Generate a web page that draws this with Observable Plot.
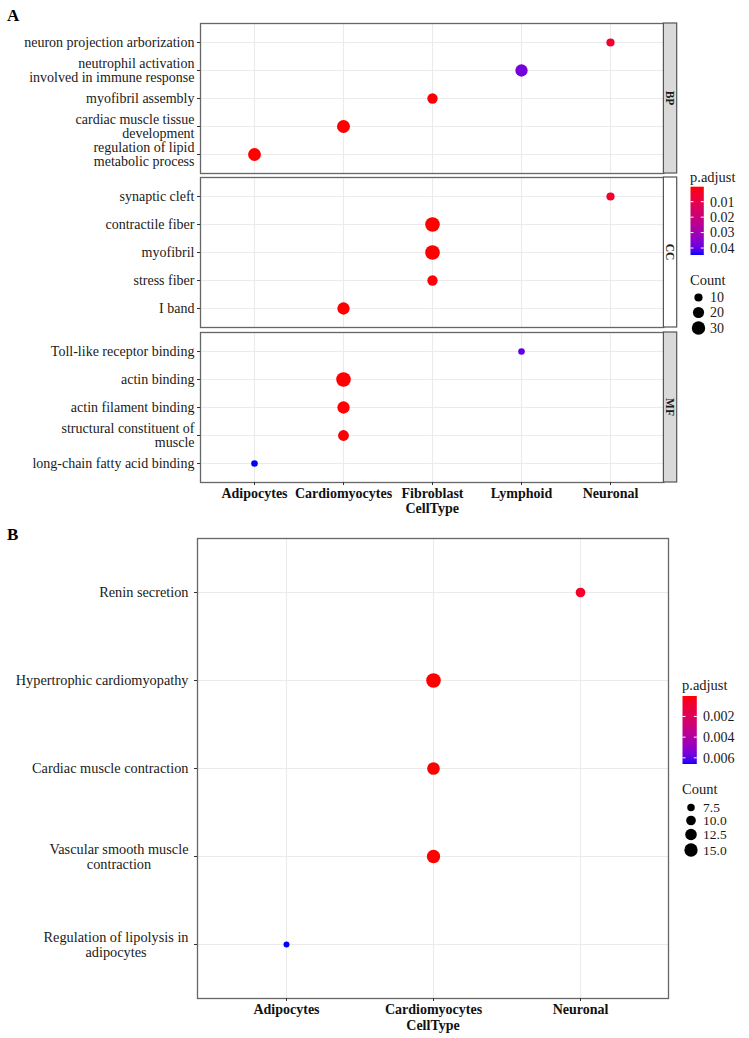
<!DOCTYPE html>
<html>
<head>
<meta charset="utf-8">
<script src="https://cdn.jsdelivr.net/npm/d3@7"></script>
<script src="https://cdn.jsdelivr.net/npm/@observablehq/plot@0.6"></script>
<style>
html, body { margin: 0; padding: 0; background: #fff; }
#root { position: relative; width: 749px; height: 1038px; overflow: hidden; background: #fff; }
#root svg { position: absolute; left: 0; overflow: visible; }
</style>
</head>
<body>
<div id="root"></div>
<script>
// ---------------- Data: panel A (GO enrichment) ----------------
const goOntology = ["BP","BP","BP","BP","BP","CC","CC","CC","CC","CC","MF","MF","MF","MF","MF"];
const goTerm = [
  "neuron projection arborization",
  "neutrophil activation\ninvolved in immune response",
  "myofibril assembly",
  "cardiac muscle tissue\ndevelopment",
  "regulation of lipid\nmetabolic process",
  "synaptic cleft",
  "contractile fiber",
  "myofibril",
  "stress fiber",
  "I band",
  "Toll-like receptor binding",
  "actin binding",
  "actin filament binding",
  "structural constituent of\nmuscle",
  "long-chain fatty acid binding"
];
const goCellType = ["Neuronal","Lymphoid","Fibroblast","Cardiomyocytes","Adipocytes",
                    "Neuronal","Fibroblast","Fibroblast","Fibroblast","Cardiomyocytes",
                    "Lymphoid","Cardiomyocytes","Cardiomyocytes","Cardiomyocytes","Adipocytes"];
const goCount = [10, 25, 17, 28, 27, 10, 36, 36, 17, 25, 6, 36, 25, 19, 6];
const goPadj = [0.0055, 0.0379, 0.0006, 0.0003, 0.0004, 0.005, 0.0003, 0.0003, 0.0008, 0.0004,
                0.0401, 0.0003, 0.0005, 0.0006, 0.0445];
const cellTypesA = ["Adipocytes","Cardiomyocytes","Fibroblast","Lymphoid","Neuronal"];
const ontologies = ["BP","CC","MF"];
const padjTicksA = [0.01, 0.02, 0.03, 0.04];
const countTicksA = [10, 20, 30];

// ---------------- Data: panel B (KEGG enrichment) ----------------
const keggTerm = [
  "Renin secretion",
  "Hypertrophic cardiomyopathy",
  "Cardiac muscle contraction",
  "Vascular smooth muscle\ncontraction",
  "Regulation of lipolysis in\nadipocytes"
];
const keggCellType = ["Neuronal","Cardiomyocytes","Cardiomyocytes","Cardiomyocytes","Adipocytes"];
const keggCount = [10, 17, 14, 15, 6];
const keggPadj = [0.00068, 0.00002, 0.00004, 0.00003, 0.0066];
const cellTypesB = ["Adipocytes","Cardiomyocytes","Neuronal"];
const padjTicksB = [0.002, 0.004, 0.006];
const countTicksB = [7.5, 10, 12.5, 15];

// ---------------- Build tables ----------------
const goRows = goTerm.map((t, i) => ({ontology: goOntology[i], term: t, cellType: goCellType[i], count: goCount[i], padj: goPadj[i]}));
const keggRows = keggTerm.map((t, i) => ({term: t, cellType: keggCellType[i], count: keggCount[i], padj: keggPadj[i]}));

const FONT = "'Liberation Serif','Times New Roman',serif";
const root = document.getElementById("root");

const colorA = {type: "linear", domain: d3.extent(goPadj), range: ["red", "blue"], interpolate: d3.interpolateLab};
const rA = {type: "sqrt", domain: d3.extent(goCount), range: [3.3, 7.3]};
const colorB = {type: "linear", domain: d3.extent(keggPadj), range: ["red", "blue"], interpolate: d3.interpolateLab};
const rB = {type: "sqrt", domain: d3.extent(keggCount), range: [3.0, 7.3]};

function stripMark(label, fill) {
  return (index, scales, values, dims) => {
    const x0 = dims.width - dims.marginRight;
    const y0 = dims.marginTop;
    const h = dims.height - dims.marginTop - dims.marginBottom;
    const g = d3.create("svg:g");
    g.append("rect").attr("x", x0).attr("y", y0).attr("width", 13.3).attr("height", h)
      .attr("fill", fill).attr("stroke", "#555").attr("stroke-width", 1.2);
    g.append("text").attr("transform", `translate(${x0 + 6.65},${y0 + h / 2}) rotate(90)`)
      .attr("text-anchor", "middle").attr("dy", "0.35em")
      .attr("font-size", 11.5).attr("font-weight", "bold").attr("fill", "#1a1a1a")
      .attr("font-family", FONT).text(label);
    return g.node();
  };
}

const gridOpts = {stroke: "#ebebeb", strokeOpacity: 1, strokeWidth: 1.1};

function goPanel(ont, frameTop, showX, stripFill) {
  const rows = goRows.filter(d => d.ontology === ont);
  const mt = 4, mb = showX ? 46 : 4, fh = 150;
  const marks = [
    Plot.gridX(gridOpts),
    Plot.gridY(gridOpts),
    Plot.dot(rows, {x: "cellType", y: "term", r: "count", fill: "padj"}),
    Plot.frame({stroke: "#666", strokeWidth: 1.3}),
    stripMark(ont, stripFill),
    Plot.axisY({tickSize: 3, tickPadding: 3, fontSize: 14, lineHeight: 1.0, stroke: "#333", fill: "#1a1a1a", label: null})
  ];
  if (showX) {
    marks.push(Plot.axisX({tickSize: 3, tickPadding: 3, fontSize: 14, fontWeight: "bold", stroke: "#333", fill: "#111",
      label: "CellType", labelAnchor: "center", labelArrow: "none", labelOffset: 30}));
  }
  const plot = Plot.plot({
    width: 749, height: mt + fh + mb,
    marginTop: mt, marginBottom: mb, marginLeft: 200, marginRight: 749 - 663.4,
    style: `font-family:${FONT};background:transparent;overflow:visible;`,
    x: {type: "point", domain: cellTypesA, padding: 0.6, axis: null},
    y: {type: "point", domain: rows.map(d => d.term), padding: 0.6, axis: null},
    color: colorA, r: rA,
    marks
  });
  plot.style.top = (frameTop - mt) + "px";
  root.appendChild(plot);
  return plot;
}

const pBP = goPanel("BP", 22.5, false, "#d9d9d9");
const pCC = goPanel("CC", 177, false, "#ffffff");
const pMF = goPanel("MF", 331.5, true, "#d9d9d9");

// Panel B
const mtB = 4, mbB = 46, fhB = 460;
const pB = Plot.plot({
  width: 749, height: mtB + fhB + mbB,
  marginTop: mtB, marginBottom: mbB, marginLeft: 197, marginRight: 749 - 668,
  style: `font-family:${FONT};background:transparent;overflow:visible;`,
  x: {type: "point", domain: cellTypesB, padding: 0.6, axis: null},
  y: {type: "point", domain: keggTerm, padding: 0.6, axis: null},
  color: colorB, r: rB,
  marks: [
    Plot.gridX(gridOpts),
    Plot.gridY(gridOpts),
    Plot.dot(keggRows, {x: "cellType", y: "term", r: "count", fill: "padj"}),
    Plot.frame({stroke: "#666", strokeWidth: 1.3}),
    Plot.axisY({tickSize: 3, tickPadding: 6, fontSize: 14.3, lineHeight: 1.05, stroke: "#333", fill: "#1a1a1a", label: null}),
    Plot.axisX({tickSize: 3, tickPadding: 3, fontSize: 14, fontWeight: "bold", stroke: "#333", fill: "#111",
      label: "CellType", labelAnchor: "center", labelArrow: "none", labelOffset: 31})
  ]
});
pB.style.top = (538 - mtB) + "px";
root.appendChild(pB);

// Center multi-line y labels in panel B (block stays right-aligned)
pB.querySelectorAll('g[aria-label="y-axis tick label"] text').forEach(t => {
  const spans = t.querySelectorAll("tspan");
  if (spans.length < 2) return;
  let w = 0;
  spans.forEach(s => { w = Math.max(w, s.getComputedTextLength()); });
  t.setAttribute("text-anchor", "middle");
  spans.forEach(s => {
    const x0 = +(s.getAttribute("x") || 0);
    s.setAttribute("x", x0 - w / 2);
  });
});

// ---------------- Legends & panel tags ----------------
function scaleFn(plot, name, fallback) {
  const s = plot.scale(name);
  return (s && typeof s.apply === "function") ? (v => s.apply(v)) : fallback;
}
const colA = scaleFn(pBP, "color", d3.scaleLinear().domain(colorA.domain).range(colorA.range).interpolate(d3.interpolateLab));
const radA = scaleFn(pBP, "r", d3.scaleSqrt().domain(rA.domain).range(rA.range));
const colB = scaleFn(pB, "color", d3.scaleLinear().domain(colorB.domain).range(colorB.range).interpolate(d3.interpolateLab));
const radB = scaleFn(pB, "r", d3.scaleSqrt().domain(rB.domain).range(rB.range));

const over = d3.create("svg").attr("width", 749).attr("height", 1038)
  .style("top", "0px").style("left", "0px").attr("font-family", FONT);

over.append("text").attr("x", 7).attr("y", 20.5).attr("font-size", 17).attr("font-weight", "bold").attr("fill", "#000").text("A");
over.append("text").attr("x", 7).attr("y", 539.5).attr("font-size", 17).attr("font-weight", "bold").attr("fill", "#000").text("B");

let gradId = 0;
function legend(cfg) {
  const g = over.append("g");
  g.append("text").attr("x", cfg.x).attr("y", cfg.titleY).attr("dy", "0.35em").attr("font-size", 14.5).attr("fill", "#1a1a1a").text("p.adjust");
  const id = "grad" + (gradId++);
  const grad = over.append("defs").append("linearGradient").attr("id", id).attr("x1", 0).attr("x2", 0).attr("y1", 0).attr("y2", 1);
  const [d0, d1] = cfg.domain;
  d3.range(0, 21).forEach(i => {
    const t = i / 20;
    grad.append("stop").attr("offset", t).attr("stop-color", cfg.color(d0 + t * (d1 - d0)));
  });
  g.append("rect").attr("x", cfg.x + 0.5).attr("y", cfg.barY).attr("width", cfg.barW).attr("height", cfg.barH).attr("fill", `url(#${id})`);
  const yv = v => cfg.barY + (v - d0) / (d1 - d0) * cfg.barH;
  cfg.ticks.forEach(v => {
    const y = yv(v);
    g.append("line").attr("x1", cfg.x + 0.5).attr("x2", cfg.x + 3.5).attr("y1", y).attr("y2", y).attr("stroke", "#fff").attr("stroke-width", 1);
    g.append("line").attr("x1", cfg.x + 0.5 + cfg.barW - 3).attr("x2", cfg.x + 0.5 + cfg.barW).attr("y1", y).attr("y2", y).attr("stroke", "#fff").attr("stroke-width", 1);
    g.append("text").attr("x", cfg.labelX).attr("y", y).attr("dy", "0.35em").attr("font-size", 14).attr("fill", "#1a1a1a").text(cfg.fmt(v));
  });
  g.append("text").attr("x", cfg.x).attr("y", cfg.countTitleY).attr("dy", "0.35em").attr("font-size", 14.5).attr("fill", "#1a1a1a").text("Count");
  cfg.counts.forEach((c, i) => {
    g.append("circle").attr("cx", cfg.circleX).attr("cy", cfg.countYs[i]).attr("r", cfg.radius(c)).attr("fill", "#000");
    g.append("text").attr("x", cfg.labelX).attr("y", cfg.countYs[i]).attr("dy", "0.35em").attr("font-size", cfg.countFont).attr("fill", "#1a1a1a").text(cfg.cfmt(c));
  });
}

legend({
  x: 690, titleY: 177, barY: 186.7, barW: 13.3, barH: 68.3, labelX: 710,
  domain: colorA.domain, color: colA, ticks: padjTicksA, fmt: d3.format(".2f"),
  countTitleY: 280, circleX: 698.5, countYs: [297.5, 312.5, 328], counts: countTicksA, radius: radA, cfmt: d3.format("d"), countFont: 14
});
legend({
  x: 682, titleY: 685, barY: 696, barW: 14.3, barH: 68, labelX: 703,
  domain: colorB.domain, color: colB, ticks: padjTicksB, fmt: d3.format(".3f"),
  countTitleY: 789, circleX: 691, countYs: [807.5, 820.5, 834.5, 850], counts: countTicksB, radius: radB, cfmt: d3.format(".1f"), countFont: 13.5
});

root.appendChild(over.node());
</script>
</body>
</html>
